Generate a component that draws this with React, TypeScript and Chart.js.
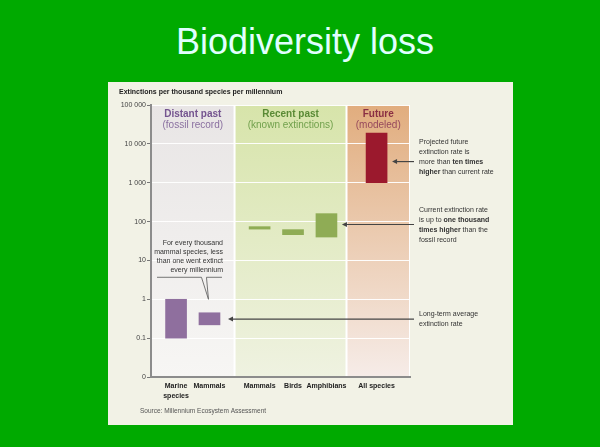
import React, { useEffect, useRef } from "react";
import { Chart, registerables } from "chart.js";

Chart.register(...registerables);

// ---- data ----
const categoryLabels: string[][] = [["Marine", "species"], ["Mammals"], ["Mammals"], ["Birds"], ["Amphibians"], ["All species"]];
const periodOfCategory = [0, 0, 1, 1, 1, 2];
const periods = ["Distant past", "Recent past", "Future"];
const periodNotes = ["(fossil record)", "(known extinctions)", "(modeled)"];
const lows = [0.1, 0.22, 64, 46, 40, 1000];
const highs = [1, 0.45, 74, 62, 160, 19000];
const yTicks = [0.01, 0.1, 1, 10, 100, 1000, 10000, 100000];
const yTickLabels = ["0", "0.1", "1", "10", "100", "1 000", "10 000", "100 000"];
const chartTitle = "Extinctions per thousand species per millennium";
const sourceText = "Source: Millennium Ecosystem Assessment";

type Seg = { t: string; b?: boolean };
const notes: { target: number; value: number; lines: Seg[][] }[] = [
  {
    target: 5,
    value: 3500,
    lines: [
      [{ t: "Projected future" }],
      [{ t: "extinction rate is" }],
      [{ t: "more than " }, { t: "ten times", b: true }],
      [{ t: "higher", b: true }, { t: " than current rate" }],
    ],
  },
  {
    target: 4,
    value: 84,
    lines: [
      [{ t: "Current extinction rate" }],
      [{ t: "is up to " }, { t: "one thousand", b: true }],
      [{ t: "times higher", b: true }, { t: " than the" }],
      [{ t: "fossil record" }],
    ],
  },
  {
    target: 1,
    value: 0.31,
    lines: [[{ t: "Long-term average" }], [{ t: "extinction rate" }]],
  },
];
const calloutLines = ["For every thousand", "mammal species, less", "than one went extinct", "every millennium"];

// ---- styles ----
const FONT = "'Liberation Sans', Arial, sans-serif";
const barColors = ["#8F6F9E", "#8FAC55", "#9B192D"];
const bandColors = [
  ["#E8E5E5", "#F7F6F4"],
  ["#D7E4AA", "#EFF2E1"],
  ["#E1AD7E", "#F6ECE8"],
];
const headColors = [
  ["#74548F", "#8A70A0"],
  ["#5A8A35", "#71A04C"],
  ["#8A2F43", "#96485C"],
];
const bandRanges = [
  [-0.75, 1.75],
  [1.75, 5.1],
  [5.1, 7],
];
const notesFirstLineOffset = [-20, -14, -5];

const xs = categoryLabels.map((_, i) => i + 0.5 * periodOfCategory[i]);

function drawRich(ctx: CanvasRenderingContext2D, segs: Seg[], x: number, y: number, size: number) {
  let cx = x;
  ctx.textAlign = "left";
  ctx.textBaseline = "middle";
  for (const s of segs) {
    ctx.font = `${s.b ? "bold " : ""}${size}px ${FONT}`;
    ctx.fillText(s.t, cx, y);
    cx += ctx.measureText(s.t).width;
  }
}

const decorPlugin = {
  id: "decor",
  beforeDraw(chart: any) {
    const { ctx, chartArea: ca, scales } = chart;
    const xS = scales.x;
    ctx.save();
    ctx.fillStyle = "#FFFFFF";
    ctx.fillRect(ca.left, ca.top, ca.right - ca.left, ca.bottom - ca.top);
    bandRanges.forEach((r, i) => {
      const p0 = xS.getPixelForValue(r[0]) + 1;
      const p1 = xS.getPixelForValue(r[1]) - 1;
      const g = ctx.createLinearGradient(0, ca.top, 0, ca.bottom);
      g.addColorStop(0, bandColors[i][0]);
      g.addColorStop(1, bandColors[i][1]);
      ctx.fillStyle = g;
      ctx.fillRect(p0, ca.top, p1 - p0, ca.bottom - ca.top);
      const cx = (p0 + p1) / 2;
      ctx.textAlign = "center";
      ctx.textBaseline = "middle";
      ctx.fillStyle = headColors[i][0];
      ctx.font = `bold 10px ${FONT}`;
      ctx.fillText(periods[i], cx, ca.top + 9);
      ctx.fillStyle = headColors[i][1];
      ctx.font = `10px ${FONT}`;
      ctx.fillText(periodNotes[i], cx, ca.top + 20);
    });
    ctx.restore();
  },
  afterDraw(chart: any) {
    const { ctx, chartArea: ca, scales } = chart;
    const xS = scales.x;
    const yS = scales.y;
    const meta = chart.getDatasetMeta(0);
    ctx.save();
    // title & source
    ctx.fillStyle = "#222";
    ctx.font = `bold 7px ${FONT}`;
    ctx.textAlign = "left";
    ctx.textBaseline = "middle";
    ctx.fillText(chartTitle, 11, 10);
    ctx.fillStyle = "#555";
    ctx.font = `6.5px ${FONT}`;
    ctx.fillText(sourceText, 32, 329);

    // notes with arrows
    notes.forEach((n, k) => {
      const bar = meta.data[n.target];
      const half = bar.width / 2;
      const tipX = bar.x + half + (k === 2 ? 8 : 5);
      const ay = yS.getPixelForValue(n.value);
      const startX = ca.right + 4;
      ctx.strokeStyle = "#444";
      ctx.fillStyle = "#444";
      ctx.lineWidth = 1.2;
      ctx.beginPath();
      ctx.moveTo(startX, ay);
      ctx.lineTo(tipX + 4, ay);
      ctx.stroke();
      ctx.beginPath();
      ctx.moveTo(tipX, ay);
      ctx.lineTo(tipX + 5, ay - 2.5);
      ctx.lineTo(tipX + 5, ay + 2.5);
      ctx.closePath();
      ctx.fill();
      ctx.fillStyle = "#333";
      n.lines.forEach((ln, j) => {
        drawRich(ctx, ln, ca.right + 9, ay + notesFirstLineOffset[k] + j * 10, 7);
      });
    });

    // callout above fossil mammals
    const mb = meta.data[1];
    const tipX = mb.x - 1;
    const tipY = yS.getPixelForValue(1);
    const lineY = tipY - 22;
    ctx.fillStyle = "#333";
    ctx.font = `7px ${FONT}`;
    ctx.textAlign = "right";
    ctx.textBaseline = "middle";
    const rx = mb.x + mb.width / 2 + 3;
    calloutLines.forEach((t, j) => ctx.fillText(t, rx, lineY - 34 + j * 9));
    ctx.strokeStyle = "#666";
    ctx.lineWidth = 0.9;
    ctx.beginPath();
    ctx.moveTo(ca.left + 6, lineY);
    ctx.lineTo(tipX - 7, lineY);
    ctx.lineTo(tipX, tipY);
    ctx.lineTo(tipX - 2, lineY);
    ctx.lineTo(rx - 1, lineY);
    ctx.stroke();
    ctx.restore();
  },
};

export default function App() {
  const ref = useRef<HTMLCanvasElement | null>(null);
  useEffect(() => {
    if (!ref.current) return;
    const chart = new Chart(ref.current, {
      type: "bar",
      data: {
        datasets: [
          {
            data: xs.map((x, i) => ({ x, y: [lows[i], highs[i]] })) as any,
            backgroundColor: periodOfCategory.map((g) => barColors[g]),
            borderWidth: 0,
            barThickness: 21,
          },
        ],
      },
      options: {
        animation: false,
        responsive: false,
        layout: { padding: { top: 23, right: 103, bottom: 0, left: 0 } },
        plugins: { legend: { display: false }, tooltip: { enabled: false }, title: { display: false } },
        scales: {
          x: {
            type: "linear",
            min: -0.75,
            max: 7,
            offset: false,
            afterBuildTicks: (s: any) => {
              s.ticks = xs.map((v) => ({ value: v }));
            },
            afterFit: (s: any) => {
              s.height = 48;
            },
            ticks: {
              autoSkip: false,
              maxRotation: 0,
              padding: 5,
              color: "#222",
              font: { family: FONT, size: 7, weight: "bold", lineHeight: 1.3 },
              callback: (_v: any, i: number) => categoryLabels[i],
            },
            grid: { display: false, drawTicks: false },
            border: { display: true, color: "#8C8C8C", width: 2 },
          },
          y: {
            type: "logarithmic",
            min: 0.01,
            max: 100000,
            afterBuildTicks: (s: any) => {
              s.ticks = yTicks.map((v) => ({ value: v }));
            },
            afterFit: (s: any) => {
              s.width = 43;
            },
            ticks: {
              autoSkip: false,
              padding: 1,
              color: "#444",
              font: { family: FONT, size: 7 },
              callback: (v: any) => yTickLabels[yTicks.indexOf(Number(v))],
            },
            grid: { color: "rgba(255,255,255,0.95)", lineWidth: 1, tickColor: "#777", tickLength: 4 },
            border: { display: true, color: "#8C8C8C", width: 2 },
          },
        },
      } as any,
      plugins: [decorPlugin],
    });
    return () => chart.destroy();
  }, []);

  return (
    <div style={{ position: "fixed", left: 0, top: 0, width: 600, height: 447, background: "#00AA00", overflow: "hidden" }}>
      <div
        style={{
          position: "absolute",
          left: 5,
          top: 24,
          width: 600,
          textAlign: "center",
          color: "#E0FFFF",
          fontFamily: FONT,
          fontSize: 36,
          lineHeight: "36px",
        }}
      >
        Biodiversity loss
      </div>
      <div style={{ position: "absolute", left: 108, top: 82, width: 405, height: 343, background: "#F2F2E6" }}>
        <canvas ref={ref} width={405} height={343} style={{ display: "block", width: 405, height: 343 }} />
      </div>
    </div>
  );
}
